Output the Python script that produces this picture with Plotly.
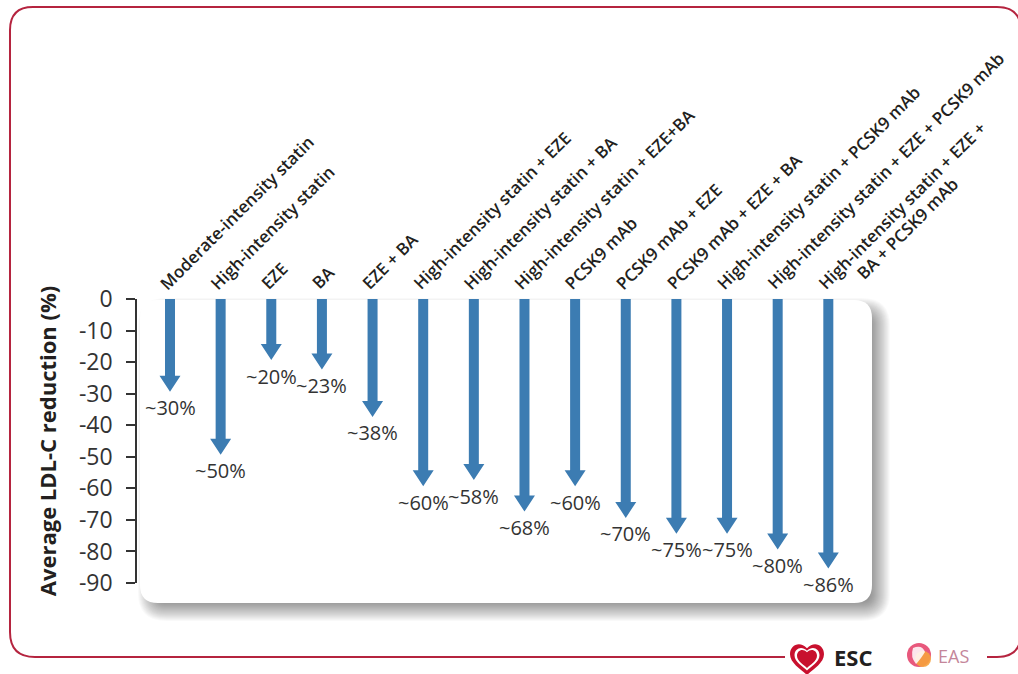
import plotly.graph_objects as go

# ---------------- data ----------------
categories = [
    "Moderate-intensity statin",
    "High-intensity statin",
    "EZE",
    "BA",
    "EZE + BA",
    "High-intensity statin + EZE",
    "High-intensity statin + BA",
    "High-intensity statin + EZE+BA",
    "PCSK9 mAb",
    "PCSK9 mAb + EZE",
    "PCSK9 mAb + EZE + BA",
    "High-intensity statin + PCSK9 mAb",
    "High-intensity statin + EZE + PCSK9 mAb",
    "High-intensity statin + EZE +<br>BA + PCSK9 mAb",
]
reductions = [30, 50, 20, 23, 38, 60, 58, 68, 60, 70, 75, 75, 80, 86]
y_tick_values = [0, -10, -20, -30, -40, -50, -60, -70, -80, -90]
y_tick_labels = ["0", "-10", "-20", "-30", "-40", "-50", "-60", "-70", "-80", "-90"]
y_title = "Average LDL-C reduction (%)"
logo_left = "ESC"
logo_right = "EAS"

# ---------------- geometry / style ----------------
W, H = 1018, 674
X0_PX, X_STEP = 170.0, 50.64          # pixel centre of first arrow, spacing
AX_LEFT, AX_RIGHT = 137.0, 880.0
Y_TOP, Y_BOT = 299.0, 583.0
Y_MIN, Y_MAX = -90, 0
PX_PER_Y = (Y_BOT - Y_TOP) / (Y_MAX - Y_MIN)

BLUE = "#3c7cb2"
DARK = "#231f20"
GREY_TXT = "#333333"
FRAME = "#b5243f"
FONT = "Open Sans"

SHAFT_W, HEAD_W, HEAD_H, TIP_GAP = 10, 21, 16, 2

x_range = [(AX_LEFT - X0_PX) / X_STEP, (AX_RIGHT - X0_PX) / X_STEP]


def P(x, y):
    return f"{x / W:.5f},{1 - y / H:.5f}"


def rrect(x0, y0, x1, y1, r):
    return (f"M{P(x0 + r, y0)} L{P(x1 - r, y0)} Q{P(x1, y0)} {P(x1, y0 + r)} "
            f"L{P(x1, y1 - r)} Q{P(x1, y1)} {P(x1 - r, y1)} "
            f"L{P(x0 + r, y1)} Q{P(x0, y1)} {P(x0, y1 - r)} "
            f"L{P(x0, y0 + r)} Q{P(x0, y0)} {P(x0 + r, y0)} Z")


def heart(cx, cy, s):
    pts = lambda a, b: P(cx + a * s, cy + b * s)
    return (f"M{pts(0, 1)} C{pts(-0.3, 0.72)} {pts(-1, 0.3)} {pts(-1, -0.22)} "
            f"C{pts(-1, -0.78)} {pts(-0.42, -1.02)} {pts(0, -0.58)} "
            f"C{pts(0.42, -1.02)} {pts(1, -0.78)} {pts(1, -0.22)} "
            f"C{pts(1, 0.3)} {pts(0.3, 0.72)} {pts(0, 1)} Z")


fig = go.Figure()

# arrows
for i, v in enumerate(reductions):
    sh = SHAFT_W / 2 / X_STEP
    hh = HEAD_W / 2 / X_STEP
    tip = -v + TIP_GAP / PX_PER_Y
    neck = tip + HEAD_H / PX_PER_Y
    xs = [i - sh, i + sh, i + sh, i + hh, i, i - hh, i - sh, i - sh]
    ys = [0, 0, neck, neck, tip, neck, neck, 0]
    fig.add_trace(go.Scatter(x=xs, y=ys, mode="lines", fill="toself",
                             fillcolor=BLUE, line=dict(width=0, color=BLUE),
                             hoverinfo="skip", showlegend=False))

annotations = []
# value labels
for i, v in enumerate(reductions):
    annotations.append(dict(x=i, y=-v, xref="x", yref="y", text=f"~{v}%",
                            showarrow=False, xanchor="center", yanchor="middle",
                            yshift=-14, font=dict(family=FONT, size=20, color=GREY_TXT)))

# category labels (rotated)
LINE_H, INDENT = 20, 34
for i, lab in enumerate(categories):
    for k, line in enumerate(lab.split("<br>")):
        dx = -18 + k * 0.7071 * (LINE_H + INDENT)
        dy = 2 - k * 0.7071 * (LINE_H - INDENT)
        annotations.append(dict(x=i, y=0, xref="x", yref="y", text=line,
                                showarrow=False, textangle=-45,
                                xanchor="left", yanchor="bottom",
                                xshift=dx, yshift=dy,
                                font=dict(family=FONT, size=17, color=DARK, weight=600)))

# logos text
annotations.append(dict(x=853 / W, y=1 - 657 / H, xref="paper", yref="paper",
                        text=logo_left, showarrow=False, xanchor="center", yanchor="middle",
                        font=dict(family=FONT, size=22, color=DARK, weight=700)))
annotations.append(dict(x=953 / W, y=1 - 656 / H, xref="paper", yref="paper",
                        text=logo_right, showarrow=False, xanchor="center", yanchor="middle",
                        font=dict(family=FONT, size=18, color="#c4869a")))

shapes = []
# drop shadow of the inner panel
BX0, BY0, BX1, BY1, BR = 140, 300, 872, 603, 18
for s in range(-10, 11):
    shapes.append(dict(type="path", xref="paper", yref="paper", layer="below",
                       path=rrect(BX0 + 8 - s, BY0 + 8 - s, BX1 + 8 + s, BY1 + 8 + s, max(BR + s, 2)),
                       fillcolor="rgba(0,0,0,0.025)", line=dict(width=0)))
shapes.append(dict(type="path", xref="paper", yref="paper", layer="below",
                   path=rrect(BX0, BY0, BX1, BY1, BR), fillcolor="white", line=dict(width=0)))

# outer frame
frame_path = (f"M{P(785, 657)} L{P(35, 657)} Q{P(10, 657)} {P(10, 632)} "
              f"L{P(10, 30)} Q{P(10, 7)} {P(33, 7)} L{P(997, 7)} Q{P(1021, 7)} {P(1021, 31)} "
              f"L{P(1021, 633)} Q{P(1021, 657)} {P(997, 657)} L{P(987, 657)}")
shapes.append(dict(type="path", xref="paper", yref="paper", layer="below",
                   path=frame_path, line=dict(color=FRAME, width=2)))

# ESC heart
shapes.append(dict(type="path", xref="paper", yref="paper", path=heart(807, 658, 17),
                   fillcolor="#c8102e", line=dict(width=0)))
shapes.append(dict(type="path", xref="paper", yref="paper", path=heart(807, 658, 12.5),
                   fillcolor="white", line=dict(width=0)))
shapes.append(dict(type="path", xref="paper", yref="paper", path=heart(807, 658, 10),
                   fillcolor="#c8102e", line=dict(width=0)))
# EAS roundel
shapes.append(dict(type="circle", xref="paper", yref="paper",
                   x0=907 / W, x1=931 / W, y0=1 - 667 / H, y1=1 - 643 / H,
                   fillcolor="#e8587c", line=dict(width=0)))
shapes.append(dict(type="circle", xref="paper", yref="paper",
                   x0=915 / W, x1=931 / W, y0=1 - 667 / H, y1=1 - 651 / H,
                   fillcolor="rgba(246,162,60,0.9)", line=dict(width=0)))
shapes.append(dict(type="path", xref="paper", yref="paper",
                   path=f"M{P(913, 648)} Q{P(922, 644)} {P(925, 652)} Q{P(920, 660)} {P(916, 664)} Q{P(910, 657)} {P(913, 648)} Z",
                   fillcolor="rgba(255,255,255,0.85)", line=dict(width=0)))

fig.update_layout(
    width=W, height=H,
    margin=dict(l=0, r=0, t=0, b=0, autoexpand=False),
    paper_bgcolor="white",
    plot_bgcolor="rgba(0,0,0,0)",
    showlegend=False,
    xaxis=dict(domain=[AX_LEFT / W, AX_RIGHT / W], range=x_range, visible=False,
               fixedrange=True, automargin=False),
    yaxis=dict(domain=[1 - Y_BOT / H, 1 - Y_TOP / H], range=[Y_MIN, Y_MAX],
               tickmode="array", tickvals=y_tick_values, ticktext=y_tick_labels,
               ticks="outside", ticklen=9, tickwidth=1.6, tickcolor=GREY_TXT,
               showline=True, linecolor=GREY_TXT, linewidth=1.6,
               showgrid=False, zeroline=False, fixedrange=True, automargin=False,
               ticklabelstandoff=9,
               tickfont=dict(family=FONT, size=23, color=GREY_TXT),
               title=dict(text=y_title, standoff=16,
                          font=dict(family=FONT, size=22, color=DARK, weight=700))),
    annotations=annotations,
    shapes=shapes,
)

fig.write_html("out.html")
